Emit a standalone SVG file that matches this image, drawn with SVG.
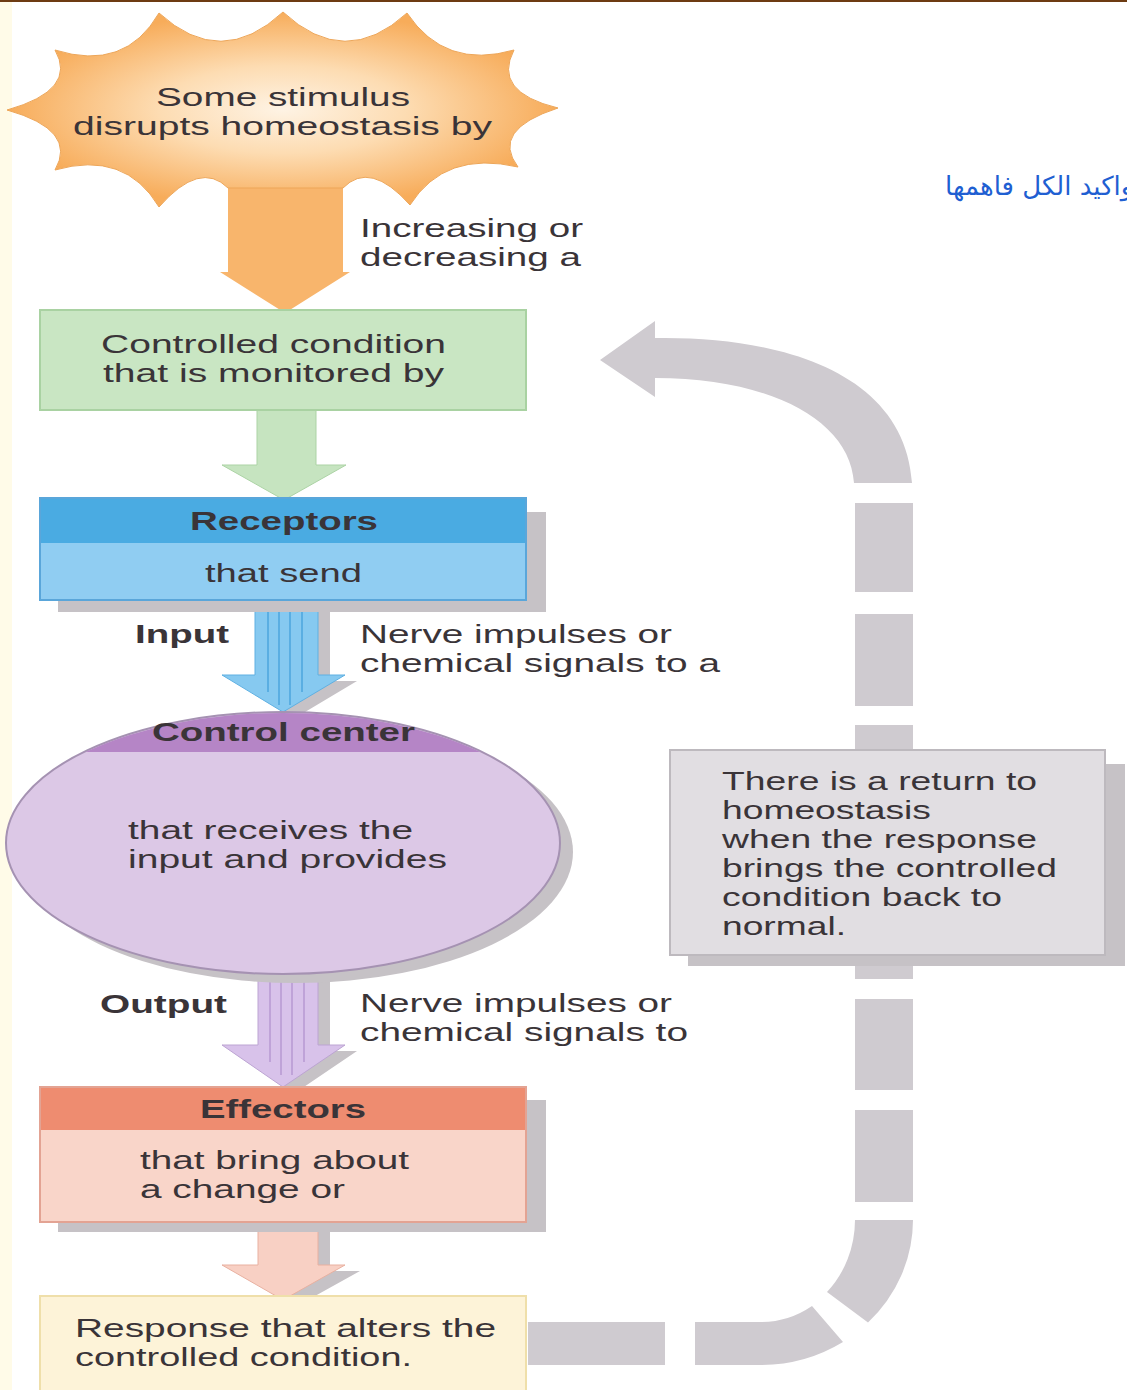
<svg xmlns="http://www.w3.org/2000/svg" width="1127" height="1390" viewBox="0 0 1127 1390">
<defs>
<style>
.t{font-family:"Liberation Sans",Arial,sans-serif;font-size:26px;fill:#3a3438}
.b{font-weight:bold}
.ret{fill:#cfcbd0}
.shadow{fill:#c6c2c6}
.stripe{stroke-width:2;fill:none}
</style>
<radialGradient id="burst" cx="0.5" cy="0.5" r="0.5">
<stop offset="0" stop-color="#fef3e4"/>
<stop offset="0.45" stop-color="#fddcb2"/>
<stop offset="1" stop-color="#f7ac5a"/>
</radialGradient>
<clipPath id="ccHead"><rect x="0" y="700" width="600" height="52"/></clipPath>
</defs>
<rect x="0" y="0" width="1127" height="1390" fill="#ffffff"/>
<rect x="0" y="0" width="12" height="1390" fill="#fffbe8"/>
<rect x="0" y="0" width="1127" height="2" fill="#6d3b12"/>

<g id="connectors">
  <!-- stimulus arrow -->
  <path d="M228 180 L343 180 L343 272 L350 272 L285 313 L220 272 L228 272 Z" fill="#f8b56c"/>
  <!-- controlled condition to receptors -->
  <path d="M257 410 L316 410 L316 465 L346 465 L284 500 L222 465 L257 465 Z" fill="#c6e4c0" stroke="#acd3a5" stroke-width="1"/>
  <!-- input arrow -->
  <path d="M267 600 L330 600 L330 681 L357 681 L295 718 L234 681 L267 681 Z" class="shadow"/>
  <path d="M255 600 L318 600 L318 675 L345 675 L283 712 L222 675 L255 675 Z" fill="#86c9f0" stroke="#5fb0e2" stroke-width="1"/>
  <g class="stripe" stroke="#5aaee2">
    <line x1="268" y1="600" x2="268" y2="692"/><line x1="279" y1="600" x2="279" y2="705"/>
    <line x1="290" y1="600" x2="290" y2="705"/><line x1="302" y1="600" x2="302" y2="692"/>
  </g>
  <!-- output arrow -->
  <path d="M270 975 L330 975 L330 1051 L357 1051 L295 1093 L234 1051 L270 1051 Z" class="shadow"/>
  <path d="M258 975 L318 975 L318 1045 L345 1045 L283 1087 L222 1045 L258 1045 Z" fill="#d8c2ea" stroke="#bca4d2" stroke-width="1"/>
  <g class="stripe" stroke="#bfa3d8">
    <line x1="270" y1="975" x2="270" y2="1062"/><line x1="281" y1="975" x2="281" y2="1075"/>
    <line x1="292" y1="975" x2="292" y2="1075"/><line x1="304" y1="975" x2="304" y2="1062"/>
  </g>
  <!-- effectors to response -->
  <path d="M270 1232 L330 1232 L330 1271 L360 1271 L297 1306 L234 1271 L270 1271 Z" class="shadow"/>
  <path d="M258 1222 L318 1222 L318 1265 L345 1265 L283 1300 L222 1265 L258 1265 Z" fill="#f8d0c4" stroke="#e8b0a0" stroke-width="1"/>
  <!-- return (feedback) arrow, dashed -->
  <g id="return-arrow" class="ret">
    <rect x="528" y="1322" width="137" height="43"/>
    <path d="M843 1342 A153 145 0 0 1 760 1365 L695 1365 L695 1322 L760 1322 A95 102 0 0 0 812 1306 Z"/>
    <path d="M855 1220 L913 1220 A153 145 0 0 1 868 1322.5 L827 1292 A95 102 0 0 0 855 1220 Z"/>
    <rect x="855" y="1110" width="58" height="92"/>
    <rect x="855" y="999" width="58" height="91"/>
    <rect x="855" y="955" width="58" height="24"/>
    <rect x="855" y="725" width="58" height="28"/>
    <rect x="855" y="614" width="58" height="92"/>
    <rect x="855" y="503" width="58" height="89"/>
    <path d="M600 360 L655 321 L655 338 C780 336 905 372 912 483 L854 483 C850 420 770 378 655 378 L655 397 Z"/>
  </g>
  <g id="connector-labels">
    <text class="t" x="360" y="237" textLength="223" lengthAdjust="spacingAndGlyphs">Increasing or</text>
    <text class="t" x="360" y="266" textLength="221" lengthAdjust="spacingAndGlyphs">decreasing a</text>
    <text class="t b" x="135" y="643" textLength="94" lengthAdjust="spacingAndGlyphs">Input</text>
    <text class="t" x="360" y="643" textLength="312" lengthAdjust="spacingAndGlyphs">Nerve impulses or</text>
    <text class="t" x="360" y="672" textLength="360" lengthAdjust="spacingAndGlyphs">chemical signals to a</text>
    <text class="t b" x="100" y="1013" textLength="127" lengthAdjust="spacingAndGlyphs">Output</text>
    <text class="t" x="360" y="1012" textLength="312" lengthAdjust="spacingAndGlyphs">Nerve impulses or</text>
    <text class="t" x="360" y="1041" textLength="328" lengthAdjust="spacingAndGlyphs">chemical signals to</text>
  </g>
</g>

<g id="stimulus">
  <path d="M159 13 Q221 70 283 12 Q345 70 407 13 Q445 70 514 50 Q492 92 558 108 Q490 130 518 167 Q445 150 410 205 Q370 160 343 188 L228 188 Q200 160 159 207 Q125 150 55 170 Q78 130 7 110 Q78 90 55 50 Q125 72 159 13 Z" fill="url(#burst)" stroke="#eda659" stroke-width="1"/>
  <text class="t" x="156" y="106" textLength="254" lengthAdjust="spacingAndGlyphs">Some stimulus</text>
  <text class="t" x="73" y="135" textLength="419" lengthAdjust="spacingAndGlyphs">disrupts homeostasis by</text>
</g>

<g id="controlled-condition">
  <rect x="40" y="310" width="486" height="100" fill="#c9e6c3" stroke="#a9d2a2" stroke-width="2"/>
  <text class="t" x="101" y="353" textLength="345" lengthAdjust="spacingAndGlyphs">Controlled condition</text>
  <text class="t" x="103" y="382" textLength="341" lengthAdjust="spacingAndGlyphs">that is monitored by</text>
</g>

<g id="receptors">
  <rect x="58" y="512" width="488" height="100" class="shadow"/>
  <rect x="40" y="498" width="486" height="102" fill="#90cdf2" stroke="#5aa6da" stroke-width="2"/>
  <rect x="41" y="499" width="484" height="44" fill="#4aabe2"/>
  <text class="t b" x="190" y="530" textLength="188" lengthAdjust="spacingAndGlyphs">Receptors</text>
  <text class="t" x="205" y="582" textLength="157" lengthAdjust="spacingAndGlyphs">that send</text>
</g>

<g id="control-center">
  <ellipse cx="296" cy="852" rx="277" ry="131" class="shadow"/>
  <ellipse cx="283" cy="843" rx="277" ry="131" fill="#dcc8e6" stroke="#a592b2" stroke-width="2"/>
  <ellipse cx="283" cy="843" rx="276" ry="130" fill="#b585c6" clip-path="url(#ccHead)"/>
  <text class="t b" x="152" y="741" textLength="263" lengthAdjust="spacingAndGlyphs">Control center</text>
  <text class="t" x="128" y="839" textLength="285" lengthAdjust="spacingAndGlyphs">that receives the</text>
  <text class="t" x="128" y="868" textLength="319" lengthAdjust="spacingAndGlyphs">input and provides</text>
</g>

<g id="effectors">
  <rect x="58" y="1100" width="488" height="132" class="shadow"/>
  <rect x="40" y="1087" width="486" height="135" fill="#f9d5c9" stroke="#e3a393" stroke-width="2"/>
  <rect x="41" y="1088" width="484" height="42" fill="#ee8c70"/>
  <text class="t b" x="200" y="1118" textLength="166" lengthAdjust="spacingAndGlyphs">Effectors</text>
  <text class="t" x="140" y="1169" textLength="269" lengthAdjust="spacingAndGlyphs">that bring about</text>
  <text class="t" x="140" y="1198" textLength="205" lengthAdjust="spacingAndGlyphs">a change or</text>
</g>

<g id="response">
  <rect x="40" y="1296" width="486" height="100" fill="#fdf3d8" stroke="#efdfaa" stroke-width="2"/>
  <text class="t" x="75" y="1337" textLength="421" lengthAdjust="spacingAndGlyphs">Response that alters the</text>
  <text class="t" x="75" y="1366" textLength="337" lengthAdjust="spacingAndGlyphs">controlled condition.</text>
</g>

<g id="return-note">
  <rect x="688" y="764" width="437" height="202" class="shadow"/>
  <rect x="670" y="750" width="435" height="205" fill="#e1dee2" stroke="#bdb9be" stroke-width="2"/>
  <text class="t" x="722" y="790" textLength="315" lengthAdjust="spacingAndGlyphs">There is a return to</text>
  <text class="t" x="722" y="819" textLength="209" lengthAdjust="spacingAndGlyphs">homeostasis</text>
  <text class="t" x="722" y="848" textLength="315" lengthAdjust="spacingAndGlyphs">when the response</text>
  <text class="t" x="722" y="877" textLength="335" lengthAdjust="spacingAndGlyphs">brings the controlled</text>
  <text class="t" x="722" y="906" textLength="280" lengthAdjust="spacingAndGlyphs">condition back to</text>
  <text class="t" x="722" y="935" textLength="124" lengthAdjust="spacingAndGlyphs">normal.</text>
</g>

<g id="note-arabic">
  <text x="945" y="195" font-family="'DejaVu Sans','Noto Sans',sans-serif" font-size="26" fill="#1f5fd2">واكيد الكل فاهمها</text>
</g>
</svg>
